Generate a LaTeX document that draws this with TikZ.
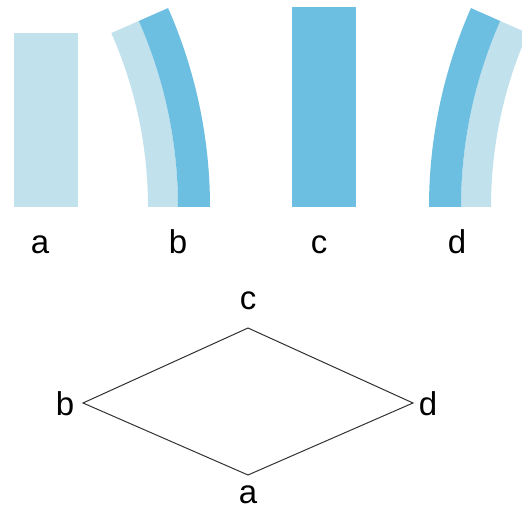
\documentclass[tikz,border=0pt]{standalone}
\usepackage{fontspec}
\setmainfont{Liberation Sans}
\usetikzlibrary{positioning}

\definecolor{palebar}{RGB}{193,225,237}
\definecolor{deepbar}{RGB}{108,191,224}
\definecolor{edgeline}{RGB}{50,50,50}

\begin{document}
\begin{tikzpicture}[x=1pt, y=1pt,
	tag/.style = { inner sep=0pt, anchor=base,
	font=\fontsize{33}{38}\selectfont },
	edge/.style = { draw=edgeline, line width=1pt, line join=miter } ]

  \useasboundingbox (0,0) rectangle (522,509);

  % straight bars
  \fill [palebar] (14,302) rectangle (78,476);
  \fill [deepbar] (292,302) rectangle (356,502);

  % bent bars
  \begin{scope}[shift={(-283,302)}]
    \fill [palebar] (0:431) arc [start angle=0, end angle=23.8, radius=431]
	-- (23.8:461) arc [start angle=23.8, end angle=0, radius=461] -- cycle;
    \fill [deepbar] (0:461) arc [start angle=0, end angle=23.8, radius=461]
	-- (23.8:493) arc [start angle=23.8, end angle=0, radius=493] -- cycle;
  \end{scope}
  \begin{scope}[shift={(922,302)}]
    \fill [palebar] (180:431) arc [start angle=180, end angle=156.2, radius=431]
	-- (156.2:461) arc [start angle=156.2, end angle=180, radius=461] -- cycle;
    \fill [deepbar] (180:461) arc [start angle=180, end angle=156.2, radius=461]
	-- (156.2:493) arc [start angle=156.2, end angle=180, radius=493] -- cycle;
  \end{scope}

  \node [name=barA, tag] at (40,255) {a};
  \node [name=barB, tag] at (178,255) {b};
  \node [name=barC, tag] at (319,255) {c};
  \node [name=barD, tag] at (457,255) {d};

  % the rhombus
  \coordinate (a) at (248,34);
  \coordinate (b) at (83,106);
  \coordinate (c) at (248,181);
  \coordinate (d) at (413,106);
  \draw [edge] (a) -- (b) -- (c) -- (d) -- cycle;

  \node [name=labA, tag] at (248,6) {a};
  \node [name=labB, tag] at (65,94) {b};
  \node [name=labC, tag] at (248,199) {c};
  \node [name=labD, tag] at (428,94) {d};
\end{tikzpicture}
\end{document}
